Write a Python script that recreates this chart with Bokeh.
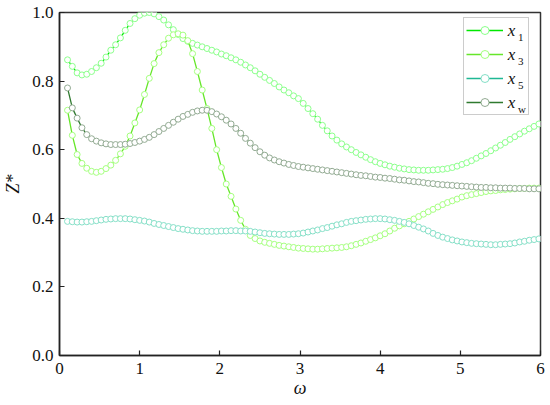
import numpy as np
from bokeh.plotting import figure
from bokeh.models import (Legend, LegendItem, Range1d, FixedTicker,
                          PrintfTickFormatter, ColumnDataSource)
from bokeh.core.properties import value
from bokeh.embed import file_html
from bokeh.resources import INLINE

# ---------------- data ----------------
X_START = 0.10
X_STEP = 0.06

series_names = ["x1", "x3", "x5", "xw"]
legend_main = ["x", "x", "x", "x"]
legend_sub = ["1", "3", "5", "w"]

x1_vals = [0.862, 0.843, 0.824, 0.818, 0.820, 0.828, 0.839, 0.852, 0.870, 0.890,
           0.906, 0.926, 0.948, 0.968, 0.982, 0.992, 0.998, 1.000, 0.996, 0.988,
           0.978, 0.964, 0.950, 0.936, 0.924, 0.916, 0.910, 0.905, 0.900, 0.895,
           0.890, 0.885, 0.879, 0.874, 0.868, 0.862, 0.855, 0.847, 0.839, 0.830,
           0.820, 0.811, 0.802, 0.793, 0.783, 0.774, 0.766, 0.757, 0.749, 0.735,
           0.720, 0.705, 0.689, 0.671, 0.655, 0.640, 0.628, 0.617, 0.608, 0.600,
           0.592, 0.585, 0.578, 0.571, 0.565, 0.560, 0.556, 0.552, 0.549, 0.546,
           0.544, 0.542, 0.541, 0.540, 0.540, 0.540, 0.541, 0.542, 0.543, 0.545,
           0.548, 0.552, 0.557, 0.562, 0.568, 0.575, 0.582, 0.589, 0.597, 0.605,
           0.613, 0.621, 0.630, 0.638, 0.646, 0.654, 0.661, 0.668, 0.675]

x3_vals = [0.715, 0.642, 0.586, 0.560, 0.546, 0.537, 0.534, 0.537, 0.545, 0.555,
           0.569, 0.588, 0.610, 0.640, 0.678, 0.716, 0.761, 0.808, 0.851, 0.883,
           0.906, 0.925, 0.935, 0.938, 0.934, 0.918, 0.880, 0.828, 0.774, 0.720,
           0.662, 0.600, 0.548, 0.500, 0.464, 0.427, 0.394, 0.368, 0.350, 0.341,
           0.334, 0.330, 0.327, 0.324, 0.321, 0.319, 0.317, 0.315, 0.313, 0.312,
           0.311, 0.310, 0.310, 0.311, 0.312, 0.313, 0.314, 0.315, 0.317, 0.320,
           0.324, 0.328, 0.333, 0.338, 0.343, 0.349, 0.355, 0.363, 0.371, 0.378,
           0.384, 0.391, 0.398, 0.405, 0.412, 0.419, 0.426, 0.433, 0.440, 0.446,
           0.451, 0.456, 0.462, 0.466, 0.469, 0.472, 0.475, 0.478, 0.480, 0.481,
           0.483, 0.484, 0.485, 0.486, 0.487, 0.487, 0.488, 0.488, 0.488]

x5_vals = [0.391, 0.390, 0.389, 0.389, 0.390, 0.391, 0.393, 0.395, 0.397, 0.398,
           0.399, 0.399, 0.399, 0.398, 0.396, 0.394, 0.392, 0.389, 0.385, 0.382,
           0.379, 0.376, 0.373, 0.370, 0.368, 0.366, 0.364, 0.363, 0.362, 0.362,
           0.362, 0.362, 0.363, 0.363, 0.364, 0.364, 0.363, 0.363, 0.362, 0.360,
           0.358, 0.356, 0.355, 0.354, 0.353, 0.353, 0.353, 0.354, 0.355, 0.357,
           0.360, 0.363, 0.366, 0.370, 0.373, 0.377, 0.381, 0.384, 0.388, 0.391,
           0.393, 0.395, 0.397, 0.398, 0.399, 0.399, 0.398, 0.396, 0.394, 0.391,
           0.388, 0.384, 0.379, 0.374, 0.369, 0.363, 0.356, 0.350, 0.345, 0.341,
           0.337, 0.334, 0.331, 0.329, 0.327, 0.326, 0.325, 0.324, 0.323, 0.323,
           0.324, 0.325, 0.326, 0.328, 0.331, 0.333, 0.336, 0.338, 0.340]

xw_vals = [0.780, 0.722, 0.692, 0.664, 0.644, 0.632, 0.625, 0.620, 0.617, 0.615,
           0.615, 0.615, 0.616, 0.618, 0.621, 0.625, 0.630, 0.636, 0.644, 0.653,
           0.662, 0.671, 0.680, 0.689, 0.697, 0.703, 0.709, 0.713, 0.715, 0.715,
           0.711, 0.704, 0.696, 0.686, 0.675, 0.662, 0.648, 0.633, 0.619, 0.606,
           0.594, 0.584, 0.576, 0.570, 0.565, 0.561, 0.557, 0.554, 0.551, 0.549,
           0.547, 0.545, 0.543, 0.541, 0.539, 0.537, 0.535, 0.533, 0.531, 0.529,
           0.527, 0.525, 0.524, 0.522, 0.520, 0.519, 0.517, 0.516, 0.514, 0.512,
           0.511, 0.509, 0.507, 0.506, 0.504, 0.502, 0.501, 0.499, 0.498, 0.497,
           0.496, 0.495, 0.494, 0.493, 0.492, 0.491, 0.490, 0.490, 0.489, 0.489,
           0.488, 0.488, 0.488, 0.487, 0.487, 0.487, 0.486, 0.486, 0.486]

x_ticks = [0, 1, 2, 3, 4, 5, 6]
y_ticks = [0.0, 0.2, 0.4, 0.6, 0.8, 1.0]

# ---------------- styles ----------------
line_colors = ["#00e800", "#66e62a", "#1fb894", "#2f7a2f"]
marker_colors = ["#8cff8c", "#a6ff80", "#86e0c8", "#93ab93"]
SERIF = "Liberation Serif, Times New Roman, serif"

# legend text placement (fractions of the plot area)
LEG_TEXT_X = 0.932      # fraction of x span
LEG_ROW_TOP = 0.947     # fraction of y span for first row
LEG_ROW_STEP = 0.070    # fraction of y span between rows
SUB_DX = 0.021
SUB_DY = 0.019


def xs_for(vals):
    return [round(X_START + X_STEP * i, 2) for i in range(len(vals))]


p = figure(width=550, height=405, output_backend="svg", toolbar_location=None,
           x_range=Range1d(0, 6), y_range=Range1d(0, 1.0),
           min_border_left=58, min_border_right=10, min_border_top=12,
           min_border_bottom=50)
p.background_fill_color = "white"
p.border_fill_color = "white"
p.xgrid.visible = False
p.ygrid.visible = False
p.outline_line_color = "#333333"
p.outline_line_width = 1.5

for ax in (p.xaxis[0], p.yaxis[0]):
    ax.axis_line_color = "#222222"
    ax.axis_line_width = 1.5
    ax.major_tick_in = 5
    ax.major_tick_out = 0
    ax.major_tick_line_color = "#222222"
    ax.major_tick_line_width = 1.2
    ax.minor_tick_line_color = None
    ax.major_label_text_font = SERIF
    ax.major_label_text_font_size = "17px"
    ax.major_label_text_color = "#111111"
    ax.axis_label_text_font = SERIF
    ax.axis_label_text_font_style = "italic"
    ax.axis_label_text_color = "#111111"

p.xaxis.ticker = FixedTicker(ticks=x_ticks)
p.yaxis.ticker = FixedTicker(ticks=y_ticks)
p.yaxis.formatter = PrintfTickFormatter(format="%.1f")
p.xaxis.major_label_standoff = 7
p.yaxis.major_label_standoff = 6

p.yaxis.axis_label = "Z*"
p.yaxis.axis_label_text_font_size = "18px"
p.yaxis.axis_label_standoff = 6

p.xaxis.axis_label = "ω"
p.xaxis.axis_label_text_font_size = "18px"
p.xaxis.axis_label_standoff = 1

all_vals = [x1_vals, x3_vals, x5_vals, xw_vals]
items = []
for name, vals, lc, mc in zip(series_names, all_vals, line_colors, marker_colors):
    src = ColumnDataSource(dict(x=xs_for(vals), y=vals))
    lr = p.line("x", "y", source=src, line_color=lc, line_width=1.3)
    sr = p.scatter("x", "y", source=src, marker="circle", size=6,
                   line_color=mc, line_width=1.0, fill_color="white")
    items.append(LegendItem(label=" ", renderers=[lr, sr]))

legend = Legend(items=items, location=(404, 240), orientation="vertical",
                glyph_width=37, glyph_height=20, spacing=4, padding=2, margin=0,
                label_width=18, label_standoff=5, label_text_font_size="10px",
                border_line_color="#999999", border_line_width=1,
                background_fill_color="white", background_fill_alpha=0.0)
p.add_layout(legend)

# legend texts: italic x with a subscript, drawn as text glyphs
x0, x1r = p.x_range.start, p.x_range.end
y0, y1r = p.y_range.start, p.y_range.end
n = len(legend_main)
main_x = [x0 + LEG_TEXT_X * (x1r - x0)] * n
main_y = [y0 + (LEG_ROW_TOP - LEG_ROW_STEP * i) * (y1r - y0) for i in range(n)]
sub_x = [mx + SUB_DX * (x1r - x0) for mx in main_x]
sub_y = [my - SUB_DY * (y1r - y0) for my in main_y]
p.text(x=main_x, y=main_y, text=legend_main, text_font=value(SERIF),
       text_font_style="italic", text_font_size="17px", text_baseline="middle",
       text_align="left", text_color="#111111")
p.text(x=sub_x, y=sub_y, text=legend_sub, text_font=value(SERIF),
       text_font_size="11px", text_baseline="middle", text_align="left",
       text_color="#111111")

open("out.html", "w").write(file_html(p, INLINE))
